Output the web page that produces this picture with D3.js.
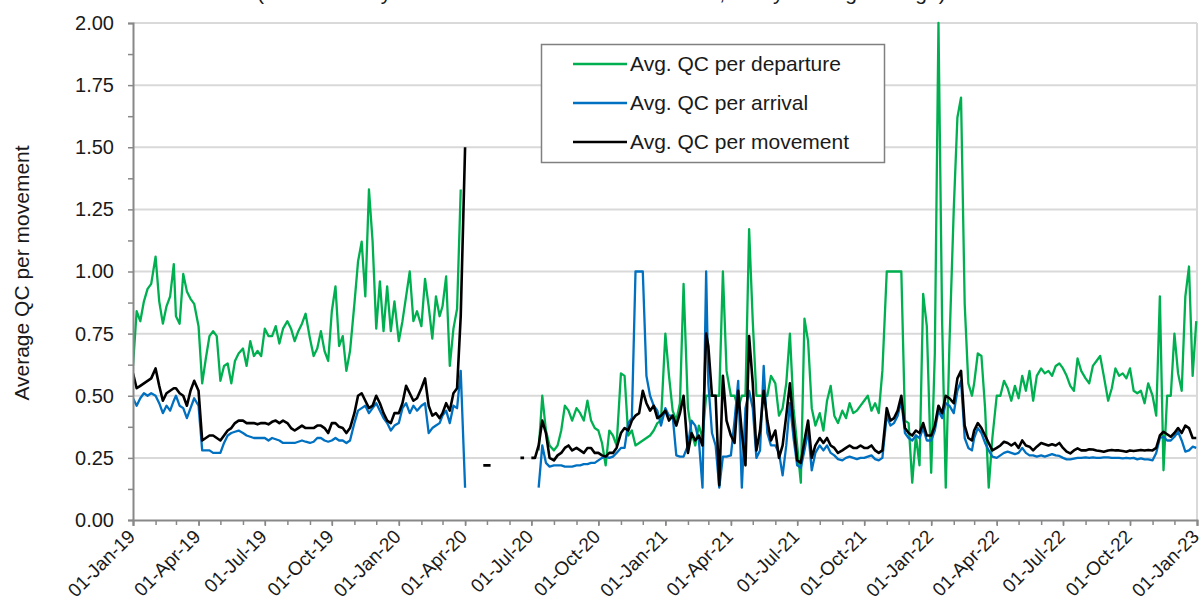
<!DOCTYPE html>
<html><head><meta charset="utf-8">
<script src="https://cdn.jsdelivr.net/npm/d3@7"></script>
<style>
html,body{margin:0;padding:0;background:#fff;}
svg{display:block;font-family:"Liberation Sans",Arial,sans-serif;}
</style></head><body>
<svg id="chart" width="1201" height="601"></svg>
<script>
// ---------- DATA ----------
const dates = [
"2019-01-01","2019-01-06","2019-01-11","2019-01-16","2019-01-21","2019-01-26",
"2019-02-01","2019-02-06","2019-02-11","2019-02-16","2019-02-21","2019-02-26",
"2019-03-01","2019-03-06","2019-03-11","2019-03-16","2019-03-21","2019-03-26",
"2019-04-01","2019-04-06","2019-04-11","2019-04-16","2019-04-21","2019-04-26",
"2019-05-01","2019-05-06","2019-05-11","2019-05-16","2019-05-21","2019-05-26",
"2019-06-01","2019-06-06","2019-06-11","2019-06-16","2019-06-21","2019-06-26",
"2019-07-01","2019-07-06","2019-07-11","2019-07-16","2019-07-21","2019-07-26",
"2019-08-01","2019-08-06","2019-08-11","2019-08-16","2019-08-21","2019-08-26",
"2019-09-01","2019-09-06","2019-09-11","2019-09-16","2019-09-21","2019-09-26",
"2019-10-01","2019-10-06","2019-10-11","2019-10-16","2019-10-21","2019-10-26",
"2019-11-01","2019-11-06","2019-11-11","2019-11-16","2019-11-21","2019-11-26",
"2019-12-01","2019-12-06","2019-12-11","2019-12-16","2019-12-21","2019-12-26",
"2020-01-01","2020-01-06","2020-01-11","2020-01-16","2020-01-21","2020-01-26",
"2020-02-01","2020-02-06","2020-02-11","2020-02-16","2020-02-21","2020-02-26",
"2020-03-01","2020-03-06","2020-03-11","2020-03-16","2020-03-21","2020-03-26",
"2020-04-01","2020-04-06","2020-04-11","2020-04-16","2020-04-21","2020-04-26",
"2020-05-01","2020-05-06","2020-05-11","2020-05-16","2020-05-21","2020-05-26",
"2020-06-01","2020-06-06","2020-06-11","2020-06-16","2020-06-21","2020-06-26",
"2020-07-01","2020-07-06","2020-07-11","2020-07-16","2020-07-21","2020-07-26",
"2020-08-01","2020-08-06","2020-08-11","2020-08-16","2020-08-21","2020-08-26",
"2020-09-01","2020-09-06","2020-09-11","2020-09-16","2020-09-21","2020-09-26",
"2020-10-01","2020-10-06","2020-10-11","2020-10-16","2020-10-21","2020-10-26",
"2020-11-01","2020-11-06","2020-11-11","2020-11-16","2020-11-21","2020-11-26",
"2020-12-01","2020-12-06","2020-12-11","2020-12-16","2020-12-21","2020-12-26",
"2021-01-01","2021-01-06","2021-01-11","2021-01-16","2021-01-21","2021-01-26",
"2021-02-01","2021-02-06","2021-02-11","2021-02-16","2021-02-21","2021-02-26",
"2021-03-01","2021-03-06","2021-03-11","2021-03-16","2021-03-21","2021-03-26",
"2021-04-01","2021-04-06","2021-04-11","2021-04-16","2021-04-21","2021-04-26",
"2021-05-01","2021-05-06","2021-05-11","2021-05-16","2021-05-21","2021-05-26",
"2021-06-01","2021-06-06","2021-06-11","2021-06-16","2021-06-21","2021-06-26",
"2021-07-01","2021-07-06","2021-07-11","2021-07-16","2021-07-21","2021-07-26",
"2021-08-01","2021-08-06","2021-08-11","2021-08-16","2021-08-21","2021-08-26",
"2021-09-01","2021-09-06","2021-09-11","2021-09-16","2021-09-21","2021-09-26",
"2021-10-01","2021-10-06","2021-10-11","2021-10-16","2021-10-21","2021-10-26",
"2021-11-01","2021-11-06","2021-11-11","2021-11-16","2021-11-21","2021-11-26",
"2021-12-01","2021-12-06","2021-12-11","2021-12-16","2021-12-21","2021-12-26",
"2022-01-01","2022-01-06","2022-01-11","2022-01-16","2022-01-21","2022-01-26",
"2022-02-01","2022-02-06","2022-02-11","2022-02-16","2022-02-21","2022-02-26",
"2022-03-01","2022-03-06","2022-03-11","2022-03-16","2022-03-21","2022-03-26",
"2022-04-01","2022-04-06","2022-04-11","2022-04-16","2022-04-21","2022-04-26",
"2022-05-01","2022-05-06","2022-05-11","2022-05-16","2022-05-21","2022-05-26",
"2022-06-01","2022-06-06","2022-06-11","2022-06-16","2022-06-21","2022-06-26",
"2022-07-01","2022-07-06","2022-07-11","2022-07-16","2022-07-21","2022-07-26",
"2022-08-01","2022-08-06","2022-08-11","2022-08-16","2022-08-21","2022-08-26",
"2022-09-01","2022-09-06","2022-09-11","2022-09-16","2022-09-21","2022-09-26",
"2022-10-01","2022-10-06","2022-10-11","2022-10-16","2022-10-21","2022-10-26",
"2022-11-01","2022-11-06","2022-11-11","2022-11-16","2022-11-21","2022-11-26",
"2022-12-01","2022-12-06","2022-12-11","2022-12-16","2022-12-21","2022-12-26","2022-12-31"
];

const departure = [
0.62,0.84,0.80,0.88,0.93,0.95, 1.06,0.88,0.79,0.86,0.90,1.03, 0.82,0.79,0.99,0.92,0.89,0.87,
0.78,0.55,0.65,0.74,0.76,0.74, 0.56,0.62,0.63,0.55,0.64,0.67, 0.69,0.62,0.72,0.66,0.68,0.66,
0.77,0.74,0.74,0.78,0.71,0.77, 0.80,0.77,0.72,0.76,0.79,0.83, 0.73,0.66,0.69,0.76,0.68,0.64,
0.84,0.94,0.70,0.74,0.60,0.68, 0.87,1.04,1.12,0.90,1.33,1.12, 0.77,0.96,0.76,0.94,0.76,0.88,
0.72,0.80,0.90,1.00,0.80,0.84, 0.78,0.97,0.86,0.73,0.90,0.82, 0.86,0.98,0.62,0.77,0.85,1.33,
null,null,null,null,null,null, null,null,null,null,null,null, null,null,null,null,null,null,
null,null,0.28,0.50,0.36,0.30, 0.28,0.30,0.36,0.46,0.44,0.40, 0.45,0.43,0.40,0.48,0.40,0.37,
0.36,0.31,0.22,0.36,0.34,0.30, 0.59,0.58,0.34,0.36,0.30,0.31, 0.32,0.33,0.34,0.36,0.39,0.40,
0.75,0.58,0.44,0.40,0.47,0.95, 0.45,0.35,0.30,0.38,0.33,0.50, 0.50,0.50,0.50,0.50,1.00,0.60,
0.50,0.50,0.45,0.50,0.50,1.17, 0.80,0.50,0.50,0.50,0.50,0.58, 0.55,0.42,0.45,0.55,0.75,0.45,
0.30,0.15,0.81,0.72,0.45,0.38, 0.43,0.36,0.48,0.54,0.42,0.39, 0.44,0.41,0.47,0.43,0.44,0.46,
0.48,0.50,0.44,0.47,0.43,0.60, 1.00,1.00,1.00,1.00,1.00,0.40, 0.39,0.15,0.34,0.22,0.91,0.78,
0.19,0.67,2.00,0.80,0.13,0.70, 1.25,1.62,1.70,0.87,0.55,0.50, 0.55,0.67,0.66,0.45,0.13,0.33,
0.50,0.50,0.56,0.53,0.48,0.54, 0.49,0.58,0.52,0.60,0.48,0.58, 0.61,0.59,0.60,0.58,0.62,0.63,
0.61,0.58,0.54,0.52,0.65,0.60, 0.57,0.55,0.62,0.64,0.66,0.58, 0.48,0.53,0.61,0.58,0.59,0.57,
0.61,0.52,0.51,0.52,0.47,0.55, 0.50,0.42,0.90,0.20,0.50,0.50, 0.75,0.59,0.52,0.90,1.02,0.58,0.80
];

const arrival = [
0.49,0.46,0.49,0.51,0.50,0.51, 0.50,0.47,0.43,0.46,0.44,0.48, 0.50,0.46,0.45,0.41,0.45,0.49,
0.46,0.28,0.28,0.28,0.27,0.27, 0.27,0.31,0.34,0.35,0.355,0.36, 0.35,0.34,0.335,0.33,0.33,0.33,
0.33,0.32,0.33,0.325,0.32,0.31, 0.31,0.31,0.31,0.315,0.32,0.315, 0.31,0.315,0.33,0.33,0.32,0.315,
0.32,0.33,0.32,0.32,0.31,0.32, 0.39,0.44,0.45,0.46,0.43,0.45, 0.47,0.44,0.41,0.39,0.36,0.38,
0.39,0.45,0.47,0.43,0.46,0.44, 0.46,0.47,0.35,0.37,0.38,0.39, 0.42,0.44,0.39,0.46,0.45,0.60,
0.13,null,null,null,null,null, null,null,null,null,null,null, null,null,null,null,null,null,
null,null,0.13,0.30,0.23,0.215, 0.22,0.22,0.22,0.215,0.215,0.215, 0.22,0.22,0.225,0.225,0.23,0.23,
0.24,0.25,0.255,0.25,0.255,0.27, 0.29,0.29,0.39,0.41,1.00,1.00, 1.00,0.58,0.50,0.46,0.44,0.38,
0.45,0.42,0.42,0.26,0.255,0.255, 0.30,0.40,0.38,0.32,0.13,1.00, 0.55,0.35,0.30,0.13,0.255,0.255,
0.26,0.40,0.56,0.13,0.45,0.52, 0.45,0.25,0.28,0.62,0.35,0.30, 0.30,0.27,0.18,0.30,0.47,0.33,
0.22,0.21,0.28,0.36,0.20,0.27, 0.30,0.28,0.30,0.27,0.26,0.245, 0.24,0.25,0.255,0.25,0.245,0.25,
0.25,0.255,0.26,0.245,0.24,0.25, 0.42,0.38,0.39,0.42,0.48,0.35, 0.33,0.32,0.34,0.33,0.37,0.32,
0.32,0.36,0.44,0.41,0.47,0.46, 0.43,0.52,0.56,0.33,0.29,0.28, 0.33,0.37,0.35,0.31,0.28,0.255,
0.25,0.26,0.27,0.275,0.27,0.265, 0.27,0.29,0.27,0.26,0.26,0.255, 0.26,0.255,0.26,0.265,0.26,0.258,
0.25,0.244,0.244,0.247,0.25,0.25, 0.252,0.25,0.252,0.25,0.25,0.252, 0.252,0.25,0.25,0.25,0.248,0.25,
0.248,0.25,0.244,0.248,0.244,0.244, 0.24,0.27,0.33,0.335,0.32,0.32, 0.335,0.355,0.32,0.275,0.28,0.295,0.29
];

const movement = [
0.59,0.53,0.54,0.55,0.56,0.57, 0.61,0.54,0.48,0.51,0.52,0.53, 0.53,0.51,0.50,0.46,0.52,0.56,
0.52,0.32,0.33,0.34,0.34,0.33, 0.32,0.34,0.36,0.37,0.39,0.40, 0.40,0.39,0.39,0.39,0.385,0.39,
0.39,0.385,0.395,0.40,0.39,0.40, 0.39,0.37,0.36,0.37,0.38,0.37, 0.37,0.37,0.38,0.38,0.37,0.35,
0.39,0.39,0.375,0.37,0.35,0.37, 0.43,0.50,0.51,0.48,0.45,0.46, 0.50,0.47,0.43,0.40,0.39,0.43,
0.43,0.47,0.54,0.51,0.48,0.49, 0.53,0.57,0.46,0.42,0.43,0.41, 0.43,0.47,0.44,0.51,0.53,0.82,
1.50,null,null,null,null,0.22, 0.22,0.22,null,null,null,null, null,null,null,0.25,0.25,null,
0.25,0.25,0.30,0.40,0.35,0.25, 0.24,0.26,0.27,0.29,0.30,0.28, 0.29,0.28,0.27,0.29,0.29,0.27,
0.27,0.26,0.255,0.27,0.27,0.29, 0.35,0.37,0.36,0.40,0.42,0.43, 0.52,0.47,0.44,0.46,0.41,0.42,
0.44,0.40,0.42,0.38,0.43,0.50, 0.27,0.35,0.32,0.34,0.30,0.75, 0.70,0.50,0.50,0.14,0.58,0.40,
0.34,0.31,0.52,0.35,0.22,0.74, 0.55,0.28,0.36,0.52,0.40,0.32, 0.36,0.25,0.30,0.42,0.55,0.38,
0.24,0.23,0.32,0.40,0.25,0.30, 0.33,0.31,0.33,0.30,0.29,0.27, 0.28,0.29,0.30,0.29,0.29,0.30,
0.29,0.29,0.30,0.28,0.27,0.28, 0.45,0.40,0.41,0.44,0.50,0.37, 0.35,0.34,0.36,0.35,0.39,0.34,
0.34,0.38,0.46,0.43,0.50,0.49, 0.47,0.57,0.60,0.38,0.33,0.32, 0.36,0.39,0.37,0.34,0.31,0.28,
0.29,0.30,0.315,0.31,0.30,0.31, 0.29,0.32,0.30,0.295,0.28,0.295, 0.31,0.305,0.30,0.305,0.30,0.31,
0.29,0.275,0.268,0.28,0.288,0.28, 0.28,0.285,0.284,0.28,0.278,0.275, 0.28,0.282,0.28,0.28,0.278,0.275,
0.28,0.278,0.28,0.282,0.28,0.282, 0.28,0.29,0.34,0.355,0.345,0.335, 0.35,0.37,0.35,0.38,0.37,0.33,0.33
];

const seriesNames  = ["Avg. QC per departure", "Avg. QC per arrival", "Avg. QC per movement"];
const seriesColors = ["#00B050", "#0070C0", "#000000"];
const yTickValues  = [0, 0.25, 0.5, 0.75, 1.0, 1.25, 1.5, 1.75, 2.0];
const xTickDates   = ["2019-01-01","2019-04-01","2019-07-01","2019-10-01","2020-01-01","2020-04-01",
                      "2020-07-01","2020-10-01","2021-01-01","2021-04-01","2021-07-01","2021-10-01",
                      "2022-01-01","2022-04-01","2022-07-01","2022-10-01","2023-01-01"];
const yAxisTitle = "Average QC per movement";
const chartTitle = "(Calculated by the total of all the recorded arrivals, 7-day moving average)";

// ---------- CHART ----------
const svg = d3.select("#chart");
svg.append("rect").attr("width",1201).attr("height",601).attr("fill","#fff");

const parse = d3.timeParse("%Y-%m-%d");
const X0 = 133, X1 = 1197, Y0 = 520, Y1 = 23;
const x = d3.scaleTime().domain([parse("2019-01-01"), parse("2023-01-01")]).range([X0, X1]);
const y = d3.scaleLinear().domain([0, 2]).range([Y0, Y1]);
const parsedDates = dates.map(parse);

// title (its upper part lies above the picture, as in the reference)
svg.append("text").attr("x", 257).attr("y", 0).attr("font-size", 21)
  .attr("fill", "#1a1a1a").text(chartTitle);

// gridlines
svg.append("g").selectAll("line").data(yTickValues.filter(v => v > 0)).join("line")
  .attr("x1", X0).attr("x2", X1).attr("y1", d => y(d)).attr("y2", d => y(d))
  .attr("stroke", "#d9d9d9").attr("stroke-width", 2);
svg.append("line").attr("x1", X1).attr("x2", X1).attr("y1", Y1).attr("y2", Y0)
  .attr("stroke", "#d9d9d9").attr("stroke-width", 2);

// series
svg.append("clipPath").attr("id", "clip").append("rect")
  .attr("x", X0).attr("y", Y1 - 3).attr("width", X1 - X0 + 2).attr("height", Y0 - Y1 + 3);
const series = [departure, arrival, movement];
const line = d3.line().defined(d => d[1] !== null).x(d => x(d[0])).y(d => y(d[1]));
const gLines = svg.append("g").attr("clip-path", "url(#clip)");
series.forEach((vals, i) => {
  const pts = parsedDates.map((d, k) => [d, vals[k]]);
  gLines.append("path").datum(pts).attr("d", line)
    .attr("fill", "none").attr("stroke", seriesColors[i])
    .attr("stroke-width", i === 2 ? 2.6 : 2.3).attr("stroke-linejoin", "round");
});

// y axis
const axisColor = "#888888";
const yAxis = svg.append("g").attr("transform", `translate(${X0},0)`)
  .call(d3.axisLeft(y).tickValues(yTickValues).tickSize(5).tickPadding(14).tickFormat(d3.format(".2f")));
const yMinor = yTickValues.slice(0, -1).map((v, i) => (v + yTickValues[i + 1]) / 2);
svg.append("g").attr("transform", `translate(${X0},0)`)
  .call(d3.axisLeft(y).tickValues(yMinor).tickSize(5).tickFormat(""))
  .call(g => g.select(".domain").remove());

// x axis
const xAxis = svg.append("g").attr("transform", `translate(0,${Y0})`)
  .call(d3.axisBottom(x).tickValues(xTickDates.map(parse)).tickSize(6).tickFormat(d3.timeFormat("%d-%b-%y")));
const months = d3.timeMonth.range(parse("2019-01-01"), parse("2023-01-02"));
svg.append("g").attr("transform", `translate(0,${Y0})`)
  .call(d3.axisBottom(x).tickValues(months).tickSize(5).tickFormat(""))
  .call(g => g.select(".domain").remove());

svg.selectAll(".domain").attr("stroke", axisColor).attr("stroke-width", 2);
svg.selectAll(".tick line").attr("stroke", axisColor).attr("stroke-width", 1.5);
yAxis.selectAll("text").attr("font-size", 20).attr("fill", "#1a1a1a")
  .attr("font-family", "Liberation Sans, Arial, sans-serif");
xAxis.selectAll("text").attr("font-size", 19).attr("fill", "#1a1a1a")
  .attr("font-family", "Liberation Sans, Arial, sans-serif")
  .attr("text-anchor", "end").attr("y", 0).attr("dy", "0.35em")
  .attr("transform", "translate(-2,13) rotate(-45)");

// y title
svg.append("text").attr("transform", "translate(29,273) rotate(-90)")
  .attr("text-anchor", "middle").attr("font-size", 21).attr("fill", "#1a1a1a")
  .text(yAxisTitle);

// legend
const lg = svg.append("g");
lg.append("rect").attr("x", 541.5).attr("y", 44.5).attr("width", 343).attr("height", 118)
  .attr("fill", "#fff").attr("stroke", "#808080").attr("stroke-width", 1.5);
seriesNames.forEach((name, i) => {
  const ly = 64 + i * 39;
  lg.append("line").attr("x1", 573).attr("x2", 627).attr("y1", ly).attr("y2", ly)
    .attr("stroke", seriesColors[i]).attr("stroke-width", 2.3);
  lg.append("text").attr("x", 630).attr("y", ly).attr("dy", "0.35em")
    .attr("font-size", 21).attr("fill", "#1a1a1a").text(name);
});
</script>
</body></html>
